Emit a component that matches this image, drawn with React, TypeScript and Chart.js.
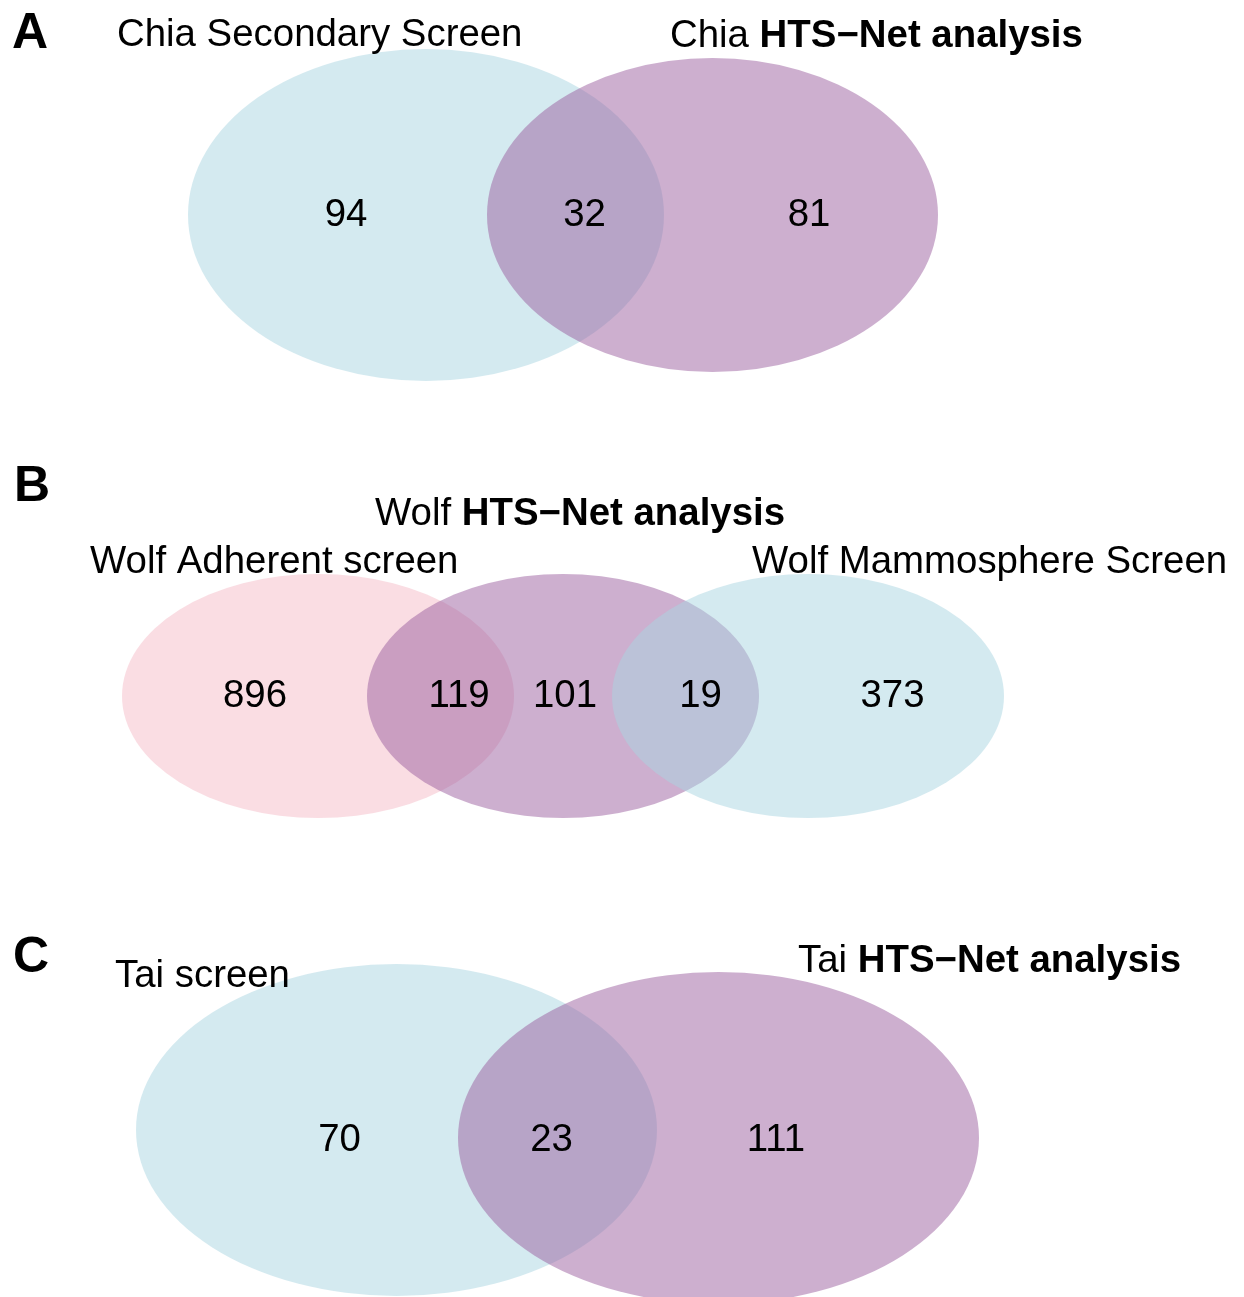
import React, { useEffect, useRef } from 'react';
import { Chart, registerables } from 'chart.js';

Chart.register(...registerables);

// ---------------- data ----------------
const panelLetters = ['A', 'B', 'C'];

const chiaSetNames = ['Chia Secondary Screen', 'Chia HTS−Net analysis'];
const chiaCounts = [94, 32, 81];

const wolfSetNames = ['Wolf Adherent screen', 'Wolf HTS−Net analysis', 'Wolf Mammosphere Screen'];
const wolfCounts = [896, 119, 101, 19, 373];

const taiSetNames = ['Tai screen', 'Tai HTS−Net analysis'];
const taiCounts = [70, 23, 111];

// ---------------- layout / style ----------------
const FONT = '"Liberation Sans", Arial, Helvetica, sans-serif';
const FONT_SIZE = 38.4;
const CYAN = 'rgba(169, 213, 225, 0.5)';
const PURPLE = 'rgba(155, 95, 159, 0.5)';
const PINK = 'rgba(245, 187, 199, 0.5)';

const W = 1244;
const H = 1297;

// ellipses in draw order (page-pixel data units)
const ellipseLayout = [
  { cx: 426, cy: 215, rx: 238, ry: 166, fill: CYAN },
  { cx: 712.5, cy: 215, rx: 225.5, ry: 157, fill: PURPLE },
  { cx: 318, cy: 696, rx: 196, ry: 122, fill: PINK },
  { cx: 563, cy: 696, rx: 196, ry: 122, fill: PURPLE },
  { cx: 808, cy: 696, rx: 196, ry: 122, fill: CYAN },
  { cx: 396.5, cy: 1130, rx: 260.5, ry: 166, fill: CYAN },
  { cx: 718.5, cy: 1138, rx: 260.5, ry: 166, fill: PURPLE },
];

const countXs = [
  [346, 584.5, 809],
  [255, 459, 565, 700.5, 892.5],
  [339.5, 551.5, 776],
];
const countBaselines = [226, 707, 1151];

const setLabelPos = [
  [{ x: 117, y: 46 }, { x: 670, y: 47 }],
  [{ x: 90, y: 573 }, { x: 375, y: 525 }, { x: 752, y: 573 }],
  [{ x: 115, y: 987 }, { x: 798, y: 972 }],
];

const letterPos = [
  { x: 12, y: 48 },
  { x: 14, y: 501 },
  { x: 13, y: 972 },
];

const vennPlugin = {
  id: 'venn',
  beforeDatasetsDraw(chart: any) {
    const { ctx } = chart;
    const xs = chart.scales.x;
    const ys = chart.scales.y;
    chart.data.datasets.forEach((ds: any) => {
      if (ds.kind !== 'ellipse') return;
      ds.data.forEach((pt: any) => {
        const px = xs.getPixelForValue(pt.x);
        const py = ys.getPixelForValue(pt.y);
        const rx = Math.abs(xs.getPixelForValue(pt.x + pt.rx) - px);
        const ry = Math.abs(ys.getPixelForValue(pt.y + pt.ry) - py);
        ctx.save();
        ctx.beginPath();
        ctx.ellipse(px, py, rx, ry, 0, 0, Math.PI * 2);
        ctx.fillStyle = ds.fill;
        ctx.fill();
        ctx.restore();
      });
    });
  },
  afterDatasetsDraw(chart: any) {
    const { ctx } = chart;
    const xs = chart.scales.x;
    const ys = chart.scales.y;
    chart.data.datasets.forEach((ds: any) => {
      if (ds.kind === 'counts') {
        ctx.save();
        ctx.font = `${FONT_SIZE}px ${FONT}`;
        ctx.fillStyle = '#000';
        ctx.textAlign = 'center';
        ctx.textBaseline = 'alphabetic';
        ds.data.forEach((pt: any) => {
          ctx.fillText(String(pt.label), xs.getPixelForValue(pt.x), ys.getPixelForValue(pt.y));
        });
        ctx.restore();
      } else if (ds.kind === 'setLabels') {
        ctx.save();
        ctx.fillStyle = '#000';
        ctx.textAlign = 'left';
        ctx.textBaseline = 'alphabetic';
        ds.data.forEach((pt: any) => {
          const px = xs.getPixelForValue(pt.x);
          const py = ys.getPixelForValue(pt.y);
          const text: string = pt.label;
          const idx = text.indexOf('HTS');
          if (idx >= 0) {
            const pre = text.slice(0, idx);
            const bold = text.slice(idx);
            ctx.font = `${FONT_SIZE}px ${FONT}`;
            ctx.fillText(pre, px, py);
            const w = ctx.measureText(pre).width;
            ctx.font = `bold ${FONT_SIZE}px ${FONT}`;
            ctx.fillText(bold, px + w, py);
          } else {
            ctx.font = `${FONT_SIZE}px ${FONT}`;
            ctx.fillText(text, px, py);
          }
        });
        ctx.restore();
      } else if (ds.kind === 'letters') {
        ctx.save();
        ctx.fillStyle = '#000';
        ctx.font = `bold 50px ${FONT}`;
        ctx.textAlign = 'left';
        ctx.textBaseline = 'alphabetic';
        ds.data.forEach((pt: any) => {
          ctx.fillText(pt.label, xs.getPixelForValue(pt.x), ys.getPixelForValue(pt.y));
        });
        ctx.restore();
      }
    });
  },
};

export default function App() {
  const canvasRef = useRef<HTMLCanvasElement | null>(null);

  useEffect(() => {
    const canvas = canvasRef.current;
    if (!canvas) return;

    const allCounts = [chiaCounts, wolfCounts, taiCounts];
    const allSetNames = [chiaSetNames, wolfSetNames, taiSetNames];

    const ellipseDatasets = ellipseLayout.map((e) => ({
      kind: 'ellipse',
      fill: e.fill,
      data: [{ x: e.cx, y: e.cy, rx: e.rx, ry: e.ry }],
      pointRadius: 0,
      showLine: false,
    }));

    const countData: any[] = [];
    allCounts.forEach((counts, p) => {
      counts.forEach((c, i) => {
        countData.push({ x: countXs[p][i], y: countBaselines[p], label: c });
      });
    });

    const setData: any[] = [];
    allSetNames.forEach((names, p) => {
      names.forEach((n, i) => {
        setData.push({ x: setLabelPos[p][i].x, y: setLabelPos[p][i].y, label: n });
      });
    });

    const letterData = panelLetters.map((l, i) => ({ x: letterPos[i].x, y: letterPos[i].y, label: l }));

    const chart = new Chart(canvas, {
      type: 'scatter',
      data: {
        datasets: [
          ...ellipseDatasets,
          { kind: 'counts', data: countData, pointRadius: 0 },
          { kind: 'setLabels', data: setData, pointRadius: 0 },
          { kind: 'letters', data: letterData, pointRadius: 0 },
        ] as any,
      },
      options: {
        animation: false,
        responsive: false,
        maintainAspectRatio: false,
        devicePixelRatio: 1,
        events: [],
        layout: { padding: 0 },
        plugins: {
          legend: { display: false },
          tooltip: { enabled: false },
        },
        scales: {
          x: { type: 'linear', min: 0, max: W, display: false },
          y: { type: 'linear', min: 0, max: H, reverse: true, display: false },
        },
      },
      plugins: [vennPlugin],
    });

    return () => {
      chart.destroy();
    };
  }, []);

  return (
    <div style={{ position: 'absolute', left: 0, top: 0, width: W, height: H, background: '#fff' }}>
      <canvas ref={canvasRef} width={W} height={H} style={{ display: 'block', width: W, height: H }} />
    </div>
  );
}
